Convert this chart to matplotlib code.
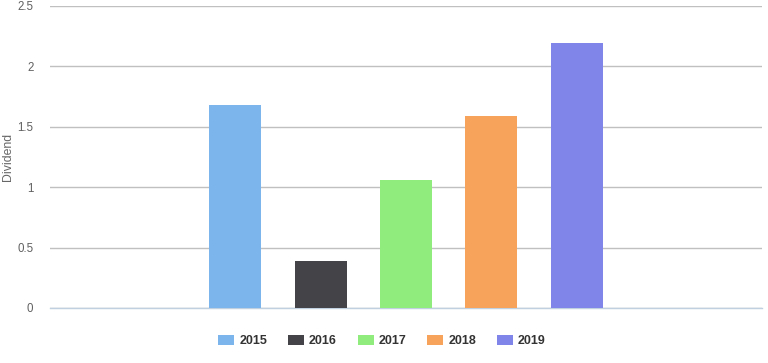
import matplotlib
matplotlib.use("Agg")
import matplotlib.pyplot as plt
import numpy as np

plt.rcParams['font.family'] = ['Liberation Sans', 'DejaVu Sans']

years = ['2015', '2016', '2017', '2018', '2019']
dividend = [1.68, 0.39, 1.06, 1.59, 2.19]
colors = ['#7cb5ec', '#434348', '#90ed7d', '#f7a35c', '#8085e9']
yticks = [0, 0.5, 1, 1.5, 2, 2.5]

fig = plt.figure(figsize=(7.68, 3.63), dpi=100)
ax = fig.add_axes([50 / 768, 55 / 363, 712 / 768, 302 / 363])

slot = 0.12  # spacing between series within the single category
offsets = (np.arange(len(years)) - (len(years) - 1) / 2) * slot
for off, y, val, c in zip(offsets, years, dividend, colors):
    ax.bar(off, val, width=0.073, color=c, label=y, zorder=3)

ax.set_xlim(-0.5, 0.5)
ax.set_ylim(0, 2.5)
ax.set_yticks(yticks)
ax.set_yticklabels([f'{t:g}' for t in yticks])
ax.set_xticks([])
ax.yaxis.grid(True, color='#c0c0c0', linewidth=1, zorder=0)
ax.tick_params(axis='y', length=0, pad=12, labelsize=8.3, labelcolor='#606060')
for s in ['top', 'right', 'left']:
    ax.spines[s].set_visible(False)
ax.spines['bottom'].set_color('#c0d0e0')
ax.spines['bottom'].set_linewidth(1)
ax.set_ylabel('Dividend', fontsize=8.8, color='#666666')
ax.yaxis.set_label_coords(-0.051, 0.5)

fig.legend(loc='center', bbox_to_anchor=(382 / 768, 1 - 341 / 363), ncol=5,
           frameon=False, handlelength=1.28, handleheight=0.95, handletextpad=0.4,
           columnspacing=1.67, prop={'weight': 'bold', 'size': 9},
           labelcolor='#333333')

fig.savefig('out.png', dpi=100, facecolor='white')
